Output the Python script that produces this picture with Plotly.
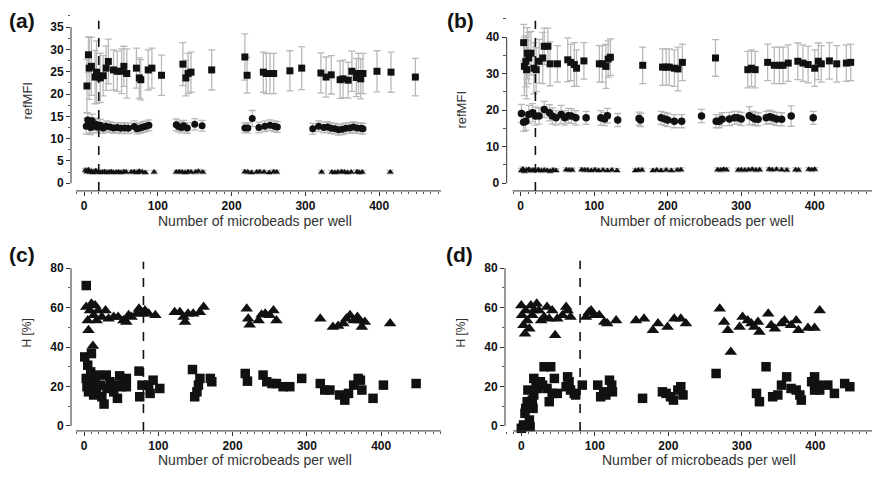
import plotly.graph_objects as go

W, H = 874, 486

# ---------------- panel (a): refMFI vs beads per well ----------------
a_sq_x = [4, 6, 7, 10, 15, 17, 22, 26, 30, 33, 40, 45, 51, 54, 58, 71, 75, 77, 87, 92,
          105, 134, 138, 141, 145, 173, 218, 221, 243, 247, 252, 257, 279, 295, 321, 328,
          335, 347, 351, 358, 363, 369, 372, 375, 378, 397, 416, 449]
a_sq_y = [21.8, 28.8, 25.8, 26.2, 23.8, 24.9, 23.6, 24.1, 25.8, 27.3, 25.4, 25.1, 25.1, 26.2,
          24.6, 25.8, 23.6, 23.2, 25.4, 25.8, 24.2, 26.7, 23.6, 24.6, 24.9, 25.4, 28.3, 24.2,
          24.9, 24.6, 24.6, 24.6, 25.2, 25.8, 24.7, 23.8, 24.3, 23.2, 23.4, 23.1, 25.1, 23.7,
          24.6, 23.4, 24.6, 25.1, 24.9, 23.8]
a_sq_e = [6.0, 4.0, 7.0, 6.5, 6.0, 7.0, 5.5, 4.5, 5.0, 5.0, 4.5, 4.5, 5.0, 4.5, 5.5, 4.5, 4.5,
          4.5, 4.5, 4.5, 4.5, 4.8, 4.0, 4.5, 4.5, 4.5, 5.2, 4.0, 4.5, 4.5, 4.5, 4.5, 4.5, 4.8,
          4.5, 4.5, 4.3, 4.2, 4.2, 4.0, 4.5, 4.3, 4.5, 4.5, 4.5, 4.6, 4.5, 4.2]

a_ci_x = [3, 5, 7, 9, 11, 13, 16, 18, 22, 26, 30, 35, 40, 45, 50, 55, 60, 68, 72, 76,
          80, 84, 88, 125, 128, 132, 135, 140, 150, 160, 218, 222, 228, 237, 245, 252, 258, 262,
          310, 318, 325, 330, 335, 340, 345, 350, 355, 360, 365, 370, 375, 378]
a_ci_y = [12.8, 14.2, 13.0, 12.5, 14.0, 12.8, 13.2, 12.6, 13.0, 12.4, 12.8, 12.6, 12.4, 12.5,
          12.3, 12.4, 12.3, 12.7, 12.2, 12.4, 12.6, 12.8, 13.0, 13.1, 12.7, 12.5, 12.9, 12.4,
          13.2, 12.9, 12.4, 12.4, 14.5, 12.5, 12.8, 13.0, 12.8, 12.6, 12.2, 12.8, 12.5, 12.6,
          12.3, 12.2, 12.0, 12.1, 12.3, 12.4, 12.6, 12.4, 12.3, 12.2]
a_ci_e = [1.8, 1.5, 1.8, 1.6, 1.5, 1.5, 1.4, 1.3, 1.3, 1.2, 1.2, 1.2, 1.2, 1.1, 1.2, 1.2,
          1.2, 1.3, 1.2, 1.2, 1.2, 1.2, 1.2, 1.3, 1.2, 1.2, 1.2, 1.2, 1.3, 1.2, 1.1, 1.1,
          1.8, 1.2, 1.2, 1.2, 1.2, 1.2, 1.2, 1.2, 1.2, 1.2, 1.2, 1.2, 1.2, 1.2, 1.2, 1.2,
          1.2, 1.2, 1.2, 1.2]

a_tr_x = [2, 4, 6, 8, 10, 12, 14, 16, 19, 22, 25, 28, 31, 34, 37, 40, 44, 47, 50, 54,
          57, 64, 68, 72, 75, 79, 83, 95, 125, 129, 133, 137, 141, 145, 151, 155, 161, 218,
          222, 227, 234, 238, 244, 251, 257, 261, 322, 336, 340, 344, 349, 353, 357, 362,
          370, 373, 377, 415]
a_tr_y = [2.9, 2.6, 3.0, 2.5, 2.7, 2.4, 2.6, 2.8, 2.5, 2.4, 2.5, 2.6, 2.4, 2.5, 2.6, 2.4,
          2.5, 2.5, 2.4, 2.6, 2.5, 2.5, 2.6, 2.4, 2.7, 2.5, 2.4, 2.5, 2.5, 2.6, 2.5, 2.4,
          2.6, 2.5, 2.5, 2.7, 2.5, 2.6, 2.5, 2.4, 2.5, 2.6, 2.5, 2.4, 2.6, 2.5, 2.5, 2.5,
          2.4, 2.5, 2.6, 2.5, 2.4, 2.5, 2.6, 2.4, 2.5, 2.5]
a_tr_e = [0.4] * len(a_tr_x)

# ---------------- panel (b): refMFI vs beads per well ----------------
b_sq_x = [4, 5, 7, 8, 9, 11, 14, 18, 21, 25, 30, 32, 37, 40, 50, 64, 68, 73, 76, 86,
          107, 111, 116, 119, 122, 166, 193, 198, 202, 209, 214, 220, 265, 309, 314, 319,
          336, 345, 352, 357, 364, 377, 384, 391, 400, 405, 409, 420, 430, 443, 449]
b_sq_y = [38.5, 32.0, 33.4, 31.1, 35.6, 34.3, 35.6, 31.5, 31.1, 33.4, 34.3, 37.5, 37.5, 32.7,
          32.7, 33.8, 33.1, 32.5, 31.5, 33.5, 32.7, 32.7, 32.0, 34.0, 34.5, 32.3, 31.8, 31.8,
          31.8, 31.5, 31.3, 33.1, 34.3, 31.1, 31.5, 31.1, 33.1, 32.3, 32.3, 32.3, 32.9, 33.4,
          32.9, 32.5, 31.5, 33.4, 32.7, 33.5, 32.7, 32.9, 33.1]
b_sq_e = [5, 8, 7, 8, 7, 7, 6, 7, 6, 6, 7, 5, 5, 6, 5, 6, 5, 6, 5, 5,
          5, 5, 6, 5, 5, 5, 5, 5, 5, 5, 6, 5, 5, 5, 5, 5, 5, 5, 5, 5,
          5, 5, 5, 5, 5, 5, 5, 5, 5, 5, 5]

b_ci_x = [1, 4, 7, 11, 16, 20, 25, 32, 39, 43, 48, 55, 60, 65, 69, 75, 89, 109, 114, 118,
          132, 161, 163, 191, 196, 200, 209, 219, 246, 266, 270, 274, 284, 291, 295, 300,
          311, 316, 319, 323, 334, 339, 343, 348, 355, 368, 398]
b_ci_y = [19.1, 16.7, 17.0, 18.8, 19.3, 18.4, 18.4, 20.2, 19.3, 18.4, 17.9, 18.8, 17.9, 18.5,
          18.4, 17.9, 17.9, 17.9, 17.6, 18.5, 17.3, 17.7, 17.3, 17.9, 17.6, 17.3, 17.0, 17.0,
          18.4, 17.0, 17.0, 17.5, 17.6, 17.9, 17.9, 17.6, 18.5, 17.9, 17.6, 17.5, 17.9, 18.2,
          17.9, 17.6, 17.5, 18.4, 17.9]
b_ci_e = [2.5, 2.5, 2.5, 2.5, 2.5, 2.5, 2.2, 2.2, 2.2, 2.2, 2.0, 2.5, 2.0, 2.0, 2.0, 2.0,
          1.8, 2.0, 1.8, 2.0, 1.8, 1.8, 1.8, 1.8, 1.8, 1.8, 1.8, 1.8, 1.8, 1.8, 1.8, 1.8,
          1.8, 1.8, 1.8, 1.8, 2.5, 1.8, 1.8, 1.8, 1.8, 1.8, 1.8, 1.8, 1.8, 2.8, 1.8]

b_tr_x = [1, 3, 5, 8, 11, 14, 17, 20, 24, 28, 32, 36, 40, 44, 48, 62, 66, 70, 83, 87,
          91, 96, 101, 106, 112, 118, 124, 131, 156, 160, 165, 180, 185, 191, 198, 205, 213,
          218, 268, 272, 276, 280, 296, 300, 305, 310, 315, 320, 325, 338, 342, 348, 355,
          362, 374, 378, 392, 396, 400]
b_tr_y = [3.5, 3.9, 3.3, 3.6, 3.8, 3.4, 3.6, 3.5, 3.7, 3.4, 3.6, 3.5, 3.3, 3.6, 3.5, 3.7,
          3.6, 3.6, 3.7, 3.6, 3.6, 3.5, 3.7, 3.5, 3.6, 3.5, 3.6, 3.5, 3.5, 3.6, 3.6, 3.5,
          3.6, 3.5, 3.6, 3.5, 3.6, 3.7, 3.7, 3.6, 3.8, 3.7, 3.6, 3.7, 3.6, 3.7, 3.8, 3.6,
          3.7, 3.8, 3.7, 3.8, 3.7, 3.6, 3.7, 3.6, 3.8, 3.7, 3.8]
b_tr_e = [0.5] * len(b_tr_x)

# ---------------- panel (c): H [%] vs beads per well ----------------
c_sq_x = [1, 3, 3, 4, 5, 6, 8, 9, 10, 12, 13, 15, 17, 19, 22, 24, 27, 30, 31, 35,
          40, 43, 45, 48, 51, 53, 57, 57, 74, 75, 78, 87, 89, 93, 102, 146, 149, 152, 154,
          156, 170, 172, 217, 220, 241, 246, 253, 259, 268, 277, 293, 318, 324, 331, 344,
          351, 356, 363, 369, 372, 374, 389, 403, 447]
c_sq_y = [35.0, 71.2, 24.1, 19.9, 30.8, 17.3, 22.4, 27.4, 36.7, 20.7, 15.7, 23.2, 18.2, 25.8,
          20.7, 14.8, 11.1, 25.8, 19.0, 22.4, 17.3, 20.7, 14.0, 25.4, 19.9, 22.4, 24.1, 19.9,
          27.8, 14.8, 20.7, 20.7, 16.5, 23.2, 19.0, 28.6, 14.8, 17.3, 20.7, 24.1, 24.1, 22.4,
          26.6, 22.7, 25.8, 22.4, 21.5, 21.5, 19.9, 19.9, 24.1, 21.5, 18.2, 18.2, 15.7, 13.1,
          16.5, 20.7, 24.1, 23.2, 18.2, 14.0, 20.7, 21.5]

c_tr_x = [3, 5, 6, 8, 10, 12, 13, 15, 17, 19, 24, 29, 33, 40, 46, 53, 57, 60, 64, 71,
          74, 78, 82, 87, 96, 122, 129, 134, 136, 140, 147, 156, 161, 219, 221, 223, 235, 239,
          244, 250, 255, 259, 318, 335, 342, 349, 353, 358, 363, 368, 371, 374, 378, 412]
c_tr_y = [60.3, 53.5, 48.5, 58.6, 62.0, 40.5, 56.1, 61.1, 53.5, 58.6, 55.2, 58.6, 54.4, 55.2,
          55.2, 53.5, 52.7, 56.1, 55.2, 56.9, 59.4, 56.9, 58.6, 56.9, 56.1, 57.7, 57.7, 55.2,
          52.7, 56.9, 56.9, 57.7, 60.3, 59.4, 54.4, 51.3, 53.5, 56.4, 56.9, 56.1, 58.6, 53.5,
          54.4, 50.2, 50.7, 51.9, 54.4, 56.1, 53.5, 55.2, 53.5, 50.2, 52.7, 51.9]

# ---------------- panel (d): H [%] vs beads per well ----------------
d_tr_x = [0, 1, 3, 5, 6, 8, 11, 13, 15, 17, 21, 24, 27, 31, 35, 38, 42, 46, 49, 56,
          61, 63, 67, 88, 92, 95, 99, 106, 113, 117, 129, 156, 167, 179, 186, 199, 208, 217,
          224, 270, 276, 281, 285, 297, 301, 308, 313, 317, 322, 324, 336, 340, 345, 354,
          358, 367, 374, 377, 390, 399, 406]
d_tr_y = [61.1, 56.1, 51.0, 46.8, 58.6, 53.5, 49.3, 61.1, 56.1, 58.6, 62.0, 58.6, 53.5, 55.2,
          60.3, 54.4, 58.6, 46.0, 54.4, 56.1, 60.3, 58.6, 55.2, 55.2, 57.7, 58.6, 56.1, 56.1,
          52.7, 51.9, 53.5, 53.5, 54.4, 48.5, 51.9, 50.2, 54.4, 54.4, 51.9, 59.4, 52.7, 48.5,
          37.5, 50.2, 55.2, 53.5, 51.9, 50.2, 52.7, 47.6, 56.9, 51.0, 49.3, 51.9, 53.5, 51.0,
          53.5, 48.5, 49.7, 49.7, 58.6]

d_sq_x = [0, 3, 5, 6, 8, 9, 11, 12, 15, 16, 17, 17, 20, 22, 26, 29, 31, 35, 38, 40,
          42, 45, 49, 61, 63, 65, 67, 72, 74, 83, 104, 108, 112, 115, 120, 123, 124, 165,
          192, 197, 203, 207, 213, 217, 220, 265, 320, 324, 333, 342, 349, 354, 361, 367,
          374, 379, 381, 395, 399, 399, 404, 406, 417, 426, 440, 447]
d_sq_y = [-1.2, 0.5, 6.4, 8.9, 12.3, 18.2, 3.0, -0.3, 13.1, 8.9, 15.7, 24.1, 20.7, 19.0,
          22.4, 20.7, 30.0, 19.0, 12.3, 30.0, 16.5, 24.1, 16.5, 19.9, 24.9, 22.4, 18.2, 16.5,
          15.7, 20.7, 20.7, 14.8, 17.3, 15.7, 23.2, 20.7, 17.3, 14.0, 17.3, 16.5, 14.8, 13.1,
          18.2, 19.9, 15.7, 26.6, 16.5, 12.3, 30.0, 14.8, 15.7, 20.7, 24.9, 19.0, 18.2, 15.7,
          13.1, 22.4, 18.2, 24.9, 20.7, 18.2, 20.7, 16.5, 21.5, 19.9]

# tick values / axis extents
x_ticks = [0, 100, 200, 300, 400]
a_y_ticks = [0, 5, 10, 15, 20, 25, 30, 35]
b_y_ticks = [0, 10, 20, 30, 40]
h_y_ticks = [0, 20, 40, 60, 80]
x_title = "Number of microbeads per well"

BLACK = "#111111"
GREY = "#b9b9b9"
FONT = "Liberation Sans, Arial, sans-serif"

fig = go.Figure()

# pixel calibration of each panel: x pixel of value 0 and px per unit,
# y pixel of value 0 and px per unit, and the pixel box of the plot area
panels = [
    dict(key="", x0=84.0, xs=0.738, xdom=(71, 441), y0=184.0, ys=4.48, ydom=(191.7, 12),
         yticks=a_y_ticks, yminor=2.5, dash=20, dash_top=36.4, ytitle="refMFI", ysize=13,
         tag="(a)", tag_xy=(22, 21), ytitle_xy=(28, 101), xtitle_xy=(255, 222)),
    dict(key="2", x0=520.7, xs=0.735, xdom=(506.7, 872), y0=184.0, ys=3.667, ydom=(191.7, 12),
         yticks=b_y_ticks, yminor=5, dash=20, dash_top=44.5, ytitle="refMFI", ysize=13,
         tag="(b)", tag_xy=(460, 21), ytitle_xy=(462, 110), xtitle_xy=(697, 222)),
    dict(key="3", x0=84.0, xs=0.743, xdom=(71, 441), y0=427.7, ys=1.98, ydom=(432.7, 255),
         yticks=h_y_ticks, yminor=10, dash=80, dash_top=83.3, ytitle="H [%]", ysize=12,
         tag="(c)", tag_xy=(22, 256), ytitle_xy=(27, 335), xtitle_xy=(255, 462)),
    dict(key="4", x0=521.3, xs=0.735, xdom=(505, 872), y0=427.7, ys=1.98, ydom=(432.7, 255),
         yticks=h_y_ticks, yminor=10, dash=80, dash_top=83.8, ytitle="H [%]", ysize=12,
         tag="(d)", tag_xy=(459, 256), ytitle_xy=(461, 335), xtitle_xy=(699, 462)),
]

series = [
    # (panel index, x, y, err, symbol, size)
    (0, a_sq_x, a_sq_y, a_sq_e, "square", 7),
    (0, a_ci_x, a_ci_y, a_ci_e, "circle", 7),
    (0, a_tr_x, a_tr_y, a_tr_e, "triangle-up", 6),
    (1, b_sq_x, b_sq_y, b_sq_e, "square", 7),
    (1, b_ci_x, b_ci_y, b_ci_e, "circle", 7.5),
    (1, b_tr_x, b_tr_y, b_tr_e, "triangle-up", 6),
    (2, c_tr_x, c_tr_y, None, "triangle-up", 11),
    (2, c_sq_x, c_sq_y, None, "square", 9.5),
    (3, d_tr_x, d_tr_y, None, "triangle-up", 11),
    (3, d_sq_x, d_sq_y, None, "square", 9.5),
]

for idx, xs, ys, es, sym, size in series:
    k = panels[idx]["key"]
    kw = {}
    if es is not None:
        kw["error_y"] = dict(type="data", array=es, visible=True, color=GREY,
                             thickness=1.3, width=3.5)
    fig.add_trace(go.Scatter(
        x=xs, y=ys, mode="markers", xaxis="x" + k, yaxis="y" + k,
        marker=dict(symbol=sym, size=size, color=BLACK, line=dict(width=0)),
        cliponaxis=False, showlegend=False, hoverinfo="skip", **kw))

shapes = []
annotations = []
layout_axes = {}
for p in panels:
    k = p["key"]
    xr = [(p["xdom"][0] - p["x0"]) / p["xs"], (p["xdom"][1] - p["x0"]) / p["xs"]]
    yr = [(p["y0"] - p["ydom"][0]) / p["ys"], (p["y0"] - p["ydom"][1]) / p["ys"]]
    layout_axes["xaxis" + k] = dict(
        domain=[p["xdom"][0] / W, p["xdom"][1] / W], range=xr, anchor="y" + k,
        showline=False, zeroline=False, showgrid=False,
        tickmode="array", tickvals=x_ticks, ticks="outside", ticklen=4, tickwidth=1,
        tickcolor="#333", tickfont=dict(family=FONT, size=12, color=BLACK, weight="bold"),
        minor=dict(dtick=10, tick0=0, ticks="outside", ticklen=2.5, tickwidth=1,
                   tickcolor="#555", showgrid=False),
        fixedrange=True)
    layout_axes["yaxis" + k] = dict(
        domain=[1 - p["ydom"][0] / H, 1 - p["ydom"][1] / H], range=yr, anchor="x" + k,
        showline=False, zeroline=False, showgrid=False,
        tickmode="array", tickvals=p["yticks"], ticks="outside", ticklen=4, tickwidth=1,
        tickcolor="#333", tickfont=dict(family=FONT, size=12, color=BLACK, weight="bold"),
        minor=dict(dtick=p["yminor"], tick0=0, ticks="outside", ticklen=2.5, tickwidth=1,
                   tickcolor="#555", showgrid=False),
        fixedrange=True)
    xa, ya = "x" + k, "y" + k
    # left axis line spanning only the tick range
    shapes.append(dict(type="line", xref=xa + " domain", yref=ya, x0=0, x1=0,
                       y0=0, y1=p["yticks"][-1], line=dict(color="#333", width=1)))
    # bottom axis line, starting just right of the left axis
    shapes.append(dict(type="line", xref=xa, yref=ya + " domain", x0=-11, x1=xr[1],
                       y0=0, y1=0, line=dict(color="#333", width=1)))
    # dashed reference line
    shapes.append(dict(type="line", xref=xa, yref=ya, x0=p["dash"], x1=p["dash"],
                       y0=yr[0], y1=p["dash_top"], line=dict(color=BLACK, width=1.6, dash="dash")))
    annotations.append(dict(text=p["tag"], xref="paper", yref="paper",
                            x=p["tag_xy"][0] / W, y=1 - p["tag_xy"][1] / H,
                            xanchor="center", yanchor="middle", showarrow=False,
                            font=dict(family=FONT, size=21, color=BLACK, weight="bold")))
    annotations.append(dict(text=p["ytitle"], xref="paper", yref="paper",
                            x=p["ytitle_xy"][0] / W, y=1 - p["ytitle_xy"][1] / H,
                            xanchor="center", yanchor="middle", showarrow=False, textangle=-90,
                            font=dict(family=FONT, size=p["ysize"], color="#333")))
    annotations.append(dict(text=x_title, xref="paper", yref="paper",
                            x=p["xtitle_xy"][0] / W, y=1 - p["xtitle_xy"][1] / H,
                            xanchor="center", yanchor="middle", showarrow=False,
                            font=dict(family=FONT, size=14, color="#333")))

fig.update_layout(
    width=W, height=H, margin=dict(l=0, r=0, t=0, b=0),
    paper_bgcolor="white", plot_bgcolor="white", showlegend=False,
    shapes=shapes, annotations=annotations, **layout_axes)

fig.write_html("out.html")
